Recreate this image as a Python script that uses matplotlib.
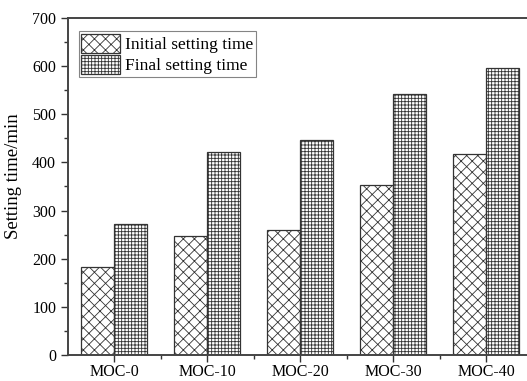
import numpy as np
import matplotlib
matplotlib.use("Agg")
import matplotlib.pyplot as plt
from matplotlib.ticker import MultipleLocator

# Datos
categorias = ["MOC-0", "MOC-10", "MOC-20", "MOC-30", "MOC-40"]
inicial = [183, 247, 260, 353, 418]
final = [273, 421, 447, 542, 597]

plt.rcParams['font.family'] = ['Liberation Serif', 'DejaVu Serif']
plt.rcParams['font.size'] = 11.5
plt.rcParams['hatch.linewidth'] = 0.6
plt.rcParams['hatch.color'] = '#555555'

fig = plt.figure(figsize=(5.27, 3.81), dpi=100)
ax = fig.add_axes([0.129, 0.068, 0.882, 0.885])

x = np.arange(len(categorias))
w = 0.355
borde = '#333333'
ax.bar(x - w/2, inicial, w, color='white', edgecolor=borde, linewidth=0.9,
       hatch='xxx', label='Initial setting time')
ax.bar(x + w/2, final, w, color='white', edgecolor=borde, linewidth=0.9,
       hatch='+++++', label='Final setting time')

ax.set_xlim(-0.5, 4.5)
ax.set_ylim(0, 700)
ax.set_xticks(x)
ax.set_xticklabels(categorias)
ax.set_xticks(x + 0.5, minor=True)
ax.yaxis.set_major_locator(MultipleLocator(100))
ax.yaxis.set_minor_locator(MultipleLocator(50))
ax.tick_params(which='major', direction='out', length=5, width=1, color='#333333')
ax.tick_params(which='minor', direction='out', length=3, width=1, color='#333333')
ax.tick_params(axis='x', pad=1.5)
ax.set_ylabel('Setting time/min', fontsize=13.5)
ax.yaxis.set_label_coords(-0.098, 0.53)

for lado in ['left', 'bottom', 'top']:
    ax.spines[lado].set_color('#444444')
    ax.spines[lado].set_linewidth(1.4)
ax.spines['right'].set_visible(False)

leg = ax.legend(loc='upper left', bbox_to_anchor=(0.016, 0.97), frameon=True,
                fancybox=False, edgecolor='#666666', handlelength=2.2,
                handleheight=1.3, handletextpad=0.3, borderpad=0.15,
                labelspacing=0.1, borderaxespad=0.2, fontsize=12.5)
leg.get_frame().set_linewidth(0.8)

fig.savefig('out.png', dpi=100)
